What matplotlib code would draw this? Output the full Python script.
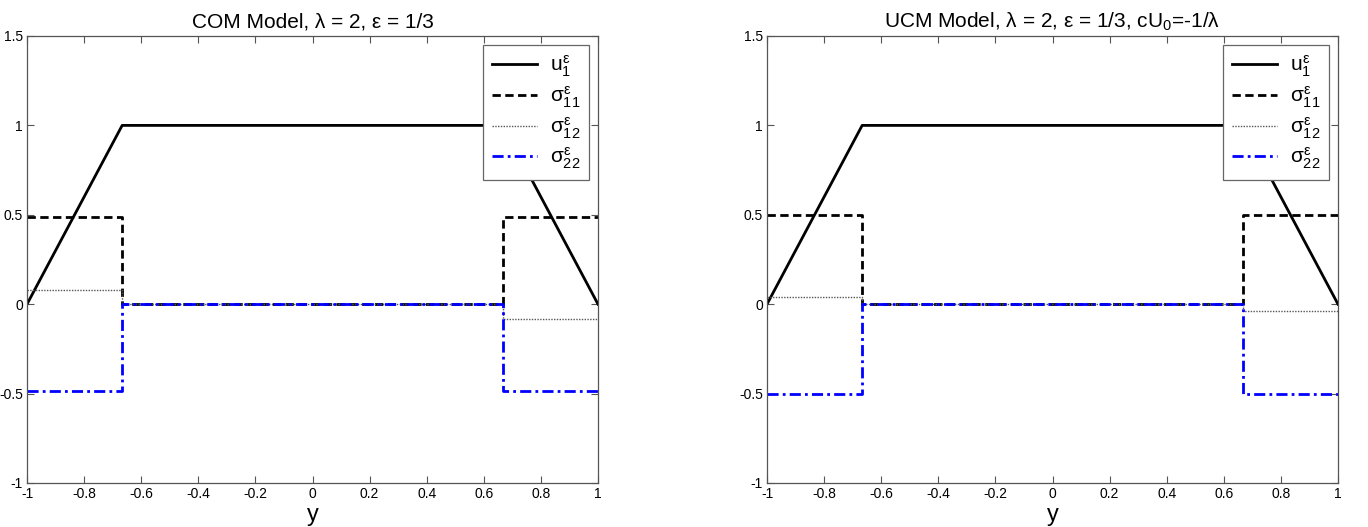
import matplotlib

matplotlib.use("Agg")
import matplotlib.pyplot as plt
import numpy as np

plt.rcParams["font.family"] = ["Liberation Sans", "DejaVu Sans"]
plt.rcParams["mathtext.fontset"] = "custom"
plt.rcParams["mathtext.rm"] = "Liberation Sans"
plt.rcParams["mathtext.it"] = "Liberation Sans"
plt.rcParams["axes.unicode_minus"] = False

# breakpoints in y shared by every profile
y_nodes = [-1.0, -2 / 3, -2 / 3, 2 / 3, 2 / 3, 1.0]
y_ramp = [-1.0, -2 / 3, 2 / 3, 1.0]

# COM model
com_u1 = [0.0, 1.0, 1.0, 0.0]
com_s11 = [0.485, 0.485, 0.0, 0.0, 0.485, 0.485]
com_s12 = [0.08, 0.08, 0.0, 0.0, -0.08, -0.08]
com_s22 = [-0.485, -0.485, 0.0, 0.0, -0.485, -0.485]

# UCM model
ucm_u1 = [0.0, 1.0, 1.0, 0.0]
ucm_s11 = [0.5, 0.5, 0.0, 0.0, 0.5, 0.5]
ucm_s12 = [0.04, 0.04, 0.0, 0.0, -0.04, -0.04]
ucm_s22 = [-0.5, -0.5, 0.0, 0.0, -0.5, -0.5]

x_ticks = [-1, -0.8, -0.6, -0.4, -0.2, 0, 0.2, 0.4, 0.6, 0.8, 1]
x_tick_labels = ["-1", "-0.8", "-0.6", "-0.4", "-0.2", "0", "0.2", "0.4", "0.6", "0.8", "1"]
y_ticks = [-1, -0.5, 0, 0.5, 1, 1.5]
y_tick_labels = ["-1", "-0.5", "0", "0.5", "1", "1.5"]

labels = [r"$u_1^{ε}$", r"$σ_{11}^{ε}$", r"$σ_{12}^{ε}$", r"$σ_{22}^{ε}$"]

panels = [
    ("COM Model, λ = 2, ε = 1/3", com_u1, com_s11, com_s12, com_s22),
    ("UCM Model, λ = 2, ε = 1/3, cU$_0$=-1/λ", ucm_u1, ucm_s11, ucm_s12, ucm_s22),
]

fig = plt.figure(figsize=(13.68, 5.27), dpi=100)
lefts = [27 / 1368, 767 / 1368]
for left, (title, u1, s11, s12, s22) in zip(lefts, panels):
    ax = fig.add_axes([left, 44 / 527, 571 / 1368, 447 / 527])
    ax.plot(y_ramp, u1, color="black", lw=2.0, ls="-", label=labels[0])
    ax.plot(y_nodes, s11, color="black", lw=2.0, ls=(0, (3, 1.6)), label=labels[1])
    ax.plot(y_nodes, s12, color="#555555", lw=1.0, ls=(0, (1, 1)), label=labels[2])
    ax.plot(y_nodes, s22, color="#0000ff", lw=2.0, ls=(0, (4, 1.5, 1, 1.5)), label=labels[3])
    ax.set_xlim(-1, 1)
    ax.set_ylim(-1, 1.5)
    ax.set_xticks(x_ticks)
    ax.set_xticklabels(x_tick_labels)
    ax.set_yticks(y_ticks)
    ax.set_yticklabels(y_tick_labels)
    ax.tick_params(direction="in", top=True, right=True, length=5, width=0.8,
                   labelsize=10, color="#555555", pad=3)
    for spine in ax.spines.values():
        spine.set_color("#555555")
        spine.set_linewidth(0.9)
    ax.set_title(title, fontsize=15, pad=6)
    ax.set_xlabel("y", fontsize=17, labelpad=2)
    leg = ax.legend(loc="upper right", fontsize=15, fancybox=False, framealpha=1,
                    edgecolor="#666666", handlelength=2.2, borderaxespad=0.45,
                    labelspacing=0.25, handletextpad=0.6, borderpad=0.4)
    leg.get_frame().set_linewidth(0.9)

fig.savefig("out.png", dpi=100)
plt.close(fig)
